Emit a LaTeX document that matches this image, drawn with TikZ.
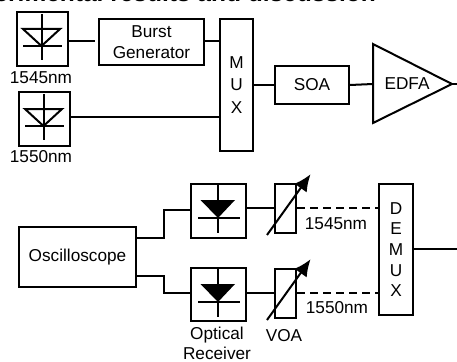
\documentclass[tikz,border=0pt]{standalone}
\usepackage{fontspec}
\setmainfont{Liberation Sans}
\usetikzlibrary{arrows.meta,calc}
\tikzset{
  x=1pt,y=-1pt,
  wire/.style={line width=2pt,line cap=butt},
  blockbox/.style={draw,line width=2pt,rectangle,inner sep=0pt,align=center,font=\fontsize{17.2}{21}\selectfont,anchor=north west},
  lbl/.style={inner sep=0pt,align=center,font=\fontsize{17.2}{20}\selectfont},
  dashwire/.style={line width=2pt,dash pattern=on 8pt off 5pt},
  tune/.style={line width=2pt,-{Latex[length=17pt,width=15pt]},shorten >=-1pt},
}
\newcommand{\boxat}[6]{\node[blockbox,minimum width=#4 pt-#2 pt,minimum height=#5 pt-#3 pt] (#1) at (#2,#3) {#6};}
\begin{document}
\begin{tikzpicture}
\useasboundingbox (0,0) rectangle (457,361);
\begin{scope}
\clip (0,0) rectangle (457,361);
\node[inner sep=0pt,anchor=base east,font=\bfseries\fontsize{24.5}{28}\selectfont] (title) at (376,1.8) {Experimental results and discussion};
\end{scope}

% laser sources
\boxat{ldA}{16}{11}{67}{65}{}
\boxat{ldB}{18}{91}{69}{145}{}
\foreach \n/\dx/\dy in {a/41.5/0,b/43.5/80}{
  \coordinate (\n t) at (\dx,14+\dy);
  \coordinate (\n b) at (\dx,60+\dy);
  \coordinate (\n l) at (\dx-18.5,29+\dy);
  \coordinate (\n r) at (\dx+18.5,29+\dy);
  \coordinate (\n m) at (\dx,46+\dy);
  \coordinate (\n p) at (\dx-18.5,46+\dy);
  \coordinate (\n q) at (\dx+20.5,46+\dy);
  \draw[wire] (\n t) -- (\n b);
  \draw[wire,line join=miter] (\n l) -- (\n r) -- (\n m) -- cycle;
  \draw[wire] (\n p) -- (\n q);
}
\node[lbl] (lblA) at (41,78) {1545nm};
\node[lbl] (lblB) at (41,157) {1550nm};

\boxat{burst}{98}{18}{203}{64}{Burst\\Generator}
\boxat{mux}{219}{18}{252}{150}{M\\[1.5pt]U\\[1.5pt]X}
\boxat{soa}{274}{65}{348}{103}{SOA}
\coordinate (ea) at (373,44);
\coordinate (eb) at (373,123);
\coordinate (ec) at (452,84);
\coordinate (ed) at (373,84);
\coordinate (ee) at (457,84);
\draw[wire,line join=miter] (ea) -- (ec) -- (eb) -- cycle;
\node[lbl] (edfa) at (407,83.5) {EDFA};

\coordinate (bin) at ($(burst.west)+(-3,-1)$);
\draw[wire] (ldA.east |- bin) -- (bin);
\draw[wire] (burst.east |- bin) -- (mux.west |- bin);
\draw[wire] (ldB.east |- 0,117) -- (mux.west |- 0,117);
\draw[wire] (mux.east |- soa.west) -- (soa.west);
\draw[wire] (soa.east) -- (ed);
\draw[wire] (ec) -- (ee);

% receiver side
\boxat{osc}{18}{226}{135}{286}{Oscilloscope}
\boxat{rxA}{190}{183}{245}{237}{}
\boxat{rxB}{190}{267}{245}{320}{}
\foreach \n/\dy in {c/0,d/84}{
  \coordinate (\n t) at (218,185+\dy);
  \coordinate (\n b) at (218,233+\dy);
  \coordinate (\n l) at (200.5,200+\dy);
  \coordinate (\n r) at (235,200+\dy);
  \coordinate (\n m) at (218,218+\dy);
  \coordinate (\n p) at (198,218+\dy);
  \coordinate (\n q) at (240,218+\dy);
  \draw[wire] (\n t) -- (\n b);
  \fill (\n l) -- (\n r) -- (\n m) -- cycle;
  \draw[wire] (\n p) -- (\n q);
}
\boxat{voaA}{274}{183}{295}{232}{}
\boxat{voaB}{274}{268}{295}{317}{}
\coordinate (tuneAs) at (267,235);
\coordinate (tuneAe) at (310,175);
\coordinate (tuneBs) at (267,320);
\coordinate (tuneBe) at (310,260);
\draw[tune] (tuneAs) -- (tuneAe);
\draw[tune] (tuneBs) -- (tuneBe);
\boxat{demux}{378}{183}{412}{314}{D\\[-0.3pt]E\\[-0.3pt]M\\[-0.3pt]U\\[-0.3pt]X}
\coordinate (outR) at (457,249);
\draw[wire] (demux.east |- outR) -- (outR);

\coordinate (jA) at (164,237.5);
\coordinate (jB) at (164,276);
\draw[wire,line join=miter] (osc.east |- jA) -- (jA) -- (164,210) -- (rxA.west |- 0,210);
\draw[wire,line join=miter] (osc.east |- jB) -- (jB) -- (164,293) -- (rxB.west |- 0,293);
\draw[wire] (rxA.east |- 0,207.5) -- (voaA.west |- 0,207.5);
\draw[wire] (rxB.east |- 0,292.7) -- (voaB.west |- 0,292.7);
\draw[dashwire] (voaA.east |- 0,207.5) -- (demux.west |- 0,207.5);
\draw[dashwire] (voaB.east |- 0,292.7) -- (demux.west |- 0,292.7);

\node[lbl] (lblC) at (336,224) {1545nm};
\node[lbl] (lblD) at (337,308) {1550nm};
\node[lbl] (lblE) at (284,336) {VOA};
\node[lbl] (lblF) at (217,343) {Optical\\Receiver};
\end{tikzpicture}
\end{document}
